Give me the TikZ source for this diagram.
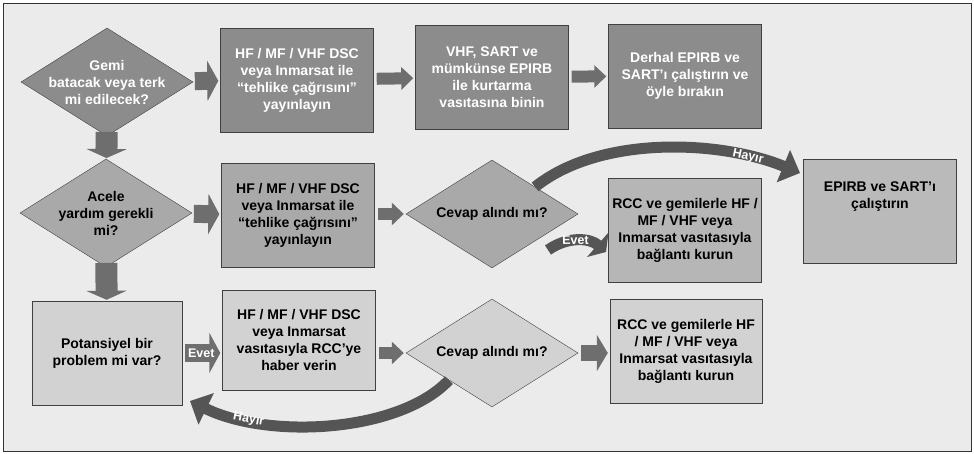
\documentclass[tikz,border=0pt]{standalone}
\usepackage{fontspec}
\setmainfont{Liberation Sans}
\usetikzlibrary{shapes.geometric,arrows.meta}
\definecolor{paper}{HTML}{EBEBEB}
\definecolor{darkfill}{HTML}{8C8C8C}
\definecolor{midfill}{HTML}{A9A9A9}
\definecolor{lightfill}{HTML}{D2D2D2}
\definecolor{arrowgray}{HTML}{6E6E6E}
\definecolor{curvegray}{HTML}{555555}

\begin{document}
\begin{tikzpicture}[x=1pt, y=-1pt, font=\bfseries\fontsize{14}{17}\selectfont]
  \tikzstyle{actbox} = [rectangle, draw=black!75, fill=midfill, align=center,
                        minimum width=153pt, minimum height=104pt]
  \tikzstyle{askbox} = [diamond, draw=black!75, fill=midfill, inner sep=0pt,
                        minimum width=172pt, minimum height=108pt]
  \tikzstyle{asktext} = [align=center]
  \tikzstyle{blockarr} = [arrowgray, line width=18pt, shorten <=3pt, shorten >=2pt,
                          -{Triangle[length=11pt,width=40pt]}]
  \tikzstyle{smallarr} = [arrowgray, line width=12pt, shorten <=3pt, shorten >=2pt,
                          -{Triangle[length=12pt,width=22pt]}]
  \tikzstyle{downarr} = [arrowgray, line width=22pt, shorten <=-4pt, shorten >=1pt,
                         -{Triangle[length=9pt,width=40pt]}]
  \tikzstyle{curvearr} = [curvegray, line width=11pt, -{Triangle[length=18pt,width=34pt]}]
  \tikzstyle{arrtext} = [text=white, inner sep=1pt, font=\bfseries\fontsize{12.5}{13}\selectfont]

  \useasboundingbox (0,0) rectangle (974,454);
  \draw[black!80, fill=paper] (3,3) rectangle (971,451);

  % first row
  \node[askbox, fill=darkfill, label={[asktext, text=white]center:Gemi\\batacak veya terk\\mi edilecek?}] (d1) at (107,82) {};
  \node[actbox, fill=darkfill, text=white] (b1) at (297,80) {HF / MF / VHF DSC\\veya Inmarsat ile\\``tehlike çağrısını''\\yayınlayın};
  \node[actbox, fill=darkfill, text=white] (b2) at (492,77) {VHF, SART ve\\mümkünse EPIRB\\ile kurtarma\\vasıtasına binin};
  \node[actbox, fill=darkfill, text=white] (b3) at (685,76) {Derhal EPIRB ve\\SART'ı çalıştırın ve\\öyle bırakın};

  % second row
  \node[askbox, label={[asktext]center:Acele\\yardım gerekli\\mi?}] (d2) at (106,213) {};
  \node[actbox] (b4) at (298,215) {HF / MF / VHF DSC\\veya Inmarsat ile\\``tehlike çağrısını''\\yayınlayın};
  \node[askbox, label={[asktext]center:Cevap alındı mı?}] (d3) at (492,214) {};
  \node[actbox, fill=midfill!85!white] (b5) at (685,230) {RCC ve gemilerle HF /\\MF / VHF veya\\Inmarsat vasıtasıyla\\bağlantı kurun};
  \node[actbox, fill=midfill!80!white] (b6) at (880,211) {EPIRB ve SART'ı\\çalıştırın\\[14pt]};

  % third row
  \node[actbox, fill=lightfill, minimum width=150pt] (b7) at (107,353) {Potansiyel bir\\problem mi var?};
  \node[actbox, fill=lightfill, minimum height=100pt] (b8) at (299,340) {HF / MF / VHF DSC\\veya Inmarsat\\vasıtasıyla RCC'ye\\haber verin};
  \node[askbox, fill=lightfill, label={[asktext]center:Cevap alındı mı?}] (d4) at (492,353) {};
  \node[actbox, fill=lightfill, minimum width=152pt] (b9) at (686,351) {RCC ve gemilerle HF\\/ MF / VHF veya\\Inmarsat vasıtasıyla\\bağlantı kurun};

  % straight arrows
  \draw[blockarr] (d1) -- (b1);
  \draw[smallarr] (b1) -- (b2);
  \draw[smallarr] (b2) -- (b3);
  \draw[downarr] (d1) -- (d2);
  \draw[blockarr] (d2) -- (b4);
  \draw[smallarr] (b4.east |- d3.west) -- (d3.west);
  \draw[downarr] (d2) -- (b7);
  \draw[blockarr] (b7.east) -- node[arrtext, xshift=-1pt]{Evet} (b7.east -| b8.west);
  \draw[smallarr] (b8.east |- d4.west) -- (d4.west);
  \draw[blockarr, line width=16pt, -{Triangle[length=11pt,width=36pt]}] (d4.east) -- (d4.east -| b9.west);

  % bent arrows
  \coordinate (hayirtop) at (800,173);
  \coordinate (evetstart) at (548,250);
  \coordinate (evetmid) at (606,252);
  \coordinate (hayirlow) at (190,401);
  \draw[curvearr] (d3.north east) .. controls (600,135) and (720,140) .. node[arrtext, pos=.8, sloped]{Hayır} (hayirtop);
  \draw[curvearr, line width=11pt, -{Triangle[length=11pt,width=32pt]}] (evetstart) .. controls (568,236) and (590,238) .. node[arrtext, pos=.45, sloped]{Evet} (evetmid);
  \draw[curvearr] (d4.south west) .. controls (400,432) and (270,440) .. node[arrtext, pos=.78, sloped]{Hayır} (hayirlow);
\end{tikzpicture}
\end{document}
